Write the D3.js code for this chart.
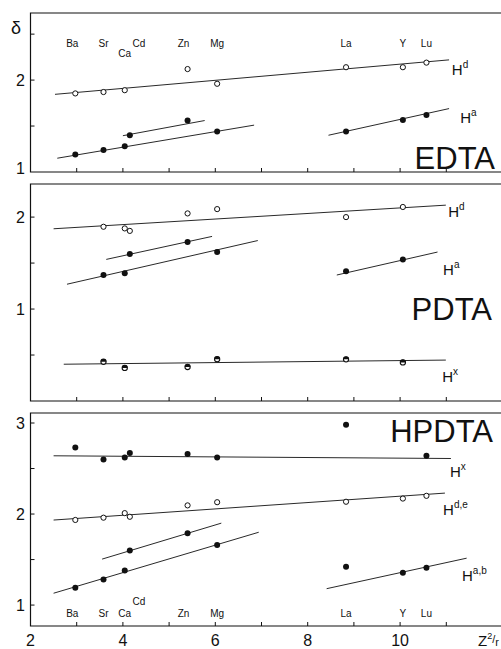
<!DOCTYPE html>
<html>
<head>
<meta charset="utf-8">
<script src="https://cdn.jsdelivr.net/npm/d3@7"></script>
<style>
  body { margin: 0; background: #fff; }
  text { font-family: "Liberation Sans", Arial, sans-serif; fill: #111; }
</style>
</head>
<body>
<svg id="chart" width="501" height="649"></svg>
<script>
// metal ions and their Z^2/r
const elements = ["Ba", "Sr", "Ca", "Cd", "Zn", "Mg", "La", "Y", "Lu"];
const zr = [2.97, 3.58, 4.04, 4.15, 5.40, 6.04, 8.83, 10.06, 10.57];

// delta values, one per element (null = not measured)
const edtaHd = [1.855, 1.87, 1.89, null, 2.12, 1.96, 2.14, 2.14, 2.19];
const edtaHa = [1.19, 1.24, 1.28, 1.40, 1.56, 1.44, 1.44, 1.565, 1.62];
const pdtaHd = [null, 1.895, 1.877, 1.85, 2.04, 2.087, 2.00, 2.11, null];
const pdtaHa = [null, 1.37, 1.39, 1.60, 1.73, 1.62, 1.41, 1.54, null];
const pdtaHx = [null, 0.427, 0.36, null, 0.37, 0.455, 0.453, 0.42, null];
const hpdtaHx = [2.73, 2.60, 2.62, 2.67, 2.66, 2.62, 2.98, null, 2.64];
const hpdtaHde = [1.935, 1.96, 2.01, 1.97, 2.095, 2.13, 2.135, 2.17, 2.20];
const hpdtaHab = [1.19, 1.28, 1.38, 1.60, 1.79, 1.66, 1.42, 1.355, 1.41];

// fitted straight lines [x0, d0, x1, d1]
const edtaHdFit = [[2.53, 1.845, 11.06, 2.22]];
const edtaHaFit = [[2.58, 1.15, 6.84, 1.51], [4.0, 1.395, 5.77, 1.56], [8.45, 1.40, 11.06, 1.69]];
const pdtaHdFit = [[2.50, 1.873, 10.99, 2.13]];
const pdtaHaFit = [[2.79, 1.27, 6.92, 1.745], [3.64, 1.54, 5.93, 1.79], [8.63, 1.37, 10.81, 1.62]];
const pdtaHxFit = [[2.72, 0.40, 10.99, 0.445]];
const hpdtaHxFit = [[2.5, 2.64, 11.1, 2.61]];
const hpdtaHdeFit = [[2.5, 1.934, 10.97, 2.23]];
const hpdtaHabFit = [[2.5, 1.13, 6.94, 1.80], [3.55, 1.505, 6.13, 1.90], [8.41, 1.18, 11.44, 1.515]];

const xTicks = [3, 4, 5, 6, 7, 8, 9, 10, 11];
const xTickLabels = [2, 4, 6, 8, 10];

var svg = d3.select("#chart");
var x = d3.scaleLinear().domain([2, 12]).range([30.5, 492.5]);
var ink = "#111";

var panels = [
  { name: "EDTA", top: 13, bottom: 172, dom: [1, 2.73], ticks: [1.5, 2, 2.5], labels: [1, 2],
    title: { x: 495, y: 169 },
    series: [
      { v: edtaHd, sym: "open", fit: edtaHdFit, sup: "d", lx: 11.12, ly: 2.05 },
      { v: edtaHa, sym: "filled", fit: edtaHaFit, sup: "a", lx: 11.30, ly: 1.53 }
    ] },
  { name: "PDTA", top: 184, bottom: 401, dom: [0, 2.36], ticks: [0.5, 1, 1.5, 2], labels: [1, 2],
    title: { x: 492, y: 320 },
    series: [
      { v: pdtaHd, sym: "open", fit: pdtaHdFit, sup: "d", lx: 11.04, ly: 2.0 },
      { v: pdtaHa, sym: "filled", fit: pdtaHaFit, sup: "a", lx: 10.93, ly: 1.37 },
      { v: pdtaHx, sym: "half", fit: pdtaHxFit, sup: "x", lx: 10.91, ly: 0.21 }
    ] },
  { name: "HPDTA", top: 413, bottom: 626, dom: [0.77, 3.11], ticks: [1, 1.5, 2, 2.5, 3], labels: [1, 2, 3],
    title: { x: 493, y: 442 },
    series: [
      { v: hpdtaHx, sym: "filled", fit: hpdtaHxFit, sup: "x", lx: 11.08, ly: 2.41 },
      { v: hpdtaHde, sym: "open", fit: hpdtaHdeFit, sup: "d,e", lx: 10.93, ly: 1.99 },
      { v: hpdtaHab, sym: "filled", fit: hpdtaHabFit, sup: "a,b", lx: 11.34, ly: 1.26 }
    ] }
];

panels.forEach(function (p) {
  var y = d3.scaleLinear().domain(p.dom).range([p.bottom, p.top]);
  var g = svg.append("g");

  // frame (right side runs off the page)
  g.append("path")
    .attr("d", "M504," + p.top + "H" + x(2) + "V" + p.bottom + "H504")
    .attr("fill", "none").attr("stroke", ink).attr("stroke-width", 1.2);

  // y ticks inward
  g.selectAll(".yt").data(p.ticks).enter().append("line")
    .attr("x1", x(2)).attr("x2", x(2) + 4)
    .attr("y1", d => y(d)).attr("y2", d => y(d))
    .attr("stroke", ink);
  g.selectAll(".yl").data(p.labels).enter().append("text")
    .attr("x", 25).attr("y", d => y(d) + (d == p.dom[0] ? 2 : 6))
    .attr("text-anchor", "end").attr("font-size", 16)
    .text(d => d);

  // x ticks upward at the bottom
  g.selectAll(".xt").data(xTicks).enter().append("line")
    .attr("x1", d => x(d)).attr("x2", d => x(d))
    .attr("y1", p.bottom).attr("y2", p.bottom - 4)
    .attr("stroke", ink);

  var line = d3.line().x(d => x(d[0])).y(d => y(d[1]));
  p.series.forEach(function (s) {
    // fitted lines
    s.fit.forEach(function (f) {
      g.append("path")
        .attr("d", line([[f[0], f[1]], [f[2], f[3]]]))
        .attr("fill", "none").attr("stroke", ink).attr("stroke-width", 0.9);
    });

    var pts = s.v.map((d, i) => ({ x: zr[i], d: d })).filter(d => d.d != null);
    var m = g.selectAll(null).data(pts).enter().append("g")
      .attr("transform", d => "translate(" + x(d.x) + "," + y(d.d) + ")");
    if (s.sym == "open") {
      m.append("circle").attr("r", 2.6).attr("fill", "#fff").attr("stroke", ink).attr("stroke-width", 1);
    } else if (s.sym == "filled") {
      m.append("circle").attr("r", 3).attr("fill", ink);
    } else {
      m.append("circle").attr("r", 2.6).attr("fill", "#fff").attr("stroke", ink).attr("stroke-width", 1.1);
      m.append("path")
        .attr("d", d3.arc()({ innerRadius: 0, outerRadius: 2.8, startAngle: -Math.PI / 2, endAngle: Math.PI / 2 }))
        .attr("fill", ink);
    }

    // H label with superscript
    var t = g.append("text").attr("x", x(s.lx)).attr("y", y(s.ly)).attr("font-size", 15);
    t.append("tspan").text("H");
    t.append("tspan").attr("dy", -7).attr("font-size", 10).text(s.sup);
  });

  // complex name
  g.append("text").attr("x", p.title.x).attr("y", p.title.y)
    .attr("text-anchor", "end").attr("font-size", 31).text(p.name);
});

// element names: top panel has Ca dropped, bottom panel has Cd raised
function elementLabels(base, shifted, dy) {
  svg.selectAll(null).data(elements).enter().append("text")
    .attr("x", (d, i) => x(zr[i]) + (d == "Cd" ? 9 : d == "Ba" ? -3 : d == "Zn" ? -4 : 0))
    .attr("y", d => base + (d == shifted ? dy : 0))
    .attr("text-anchor", "middle").attr("font-size", 10)
    .text(d => d);
}
elementLabels(47, "Ca", 10);
elementLabels(617, "Cd", -12);

// x axis labels
svg.selectAll(".xl").data(xTickLabels).enter().append("text")
  .attr("x", d => x(d)).attr("y", 646)
  .attr("text-anchor", "middle").attr("font-size", 16)
  .text(d => d);
var zt = svg.append("text").attr("x", 478).attr("y", 646).attr("font-size", 15);
zt.append("tspan").text("Z");
zt.append("tspan").attr("dy", -7).attr("font-size", 9).text("2");
zt.append("tspan").attr("dy", 4).attr("font-size", 11).text("/");
zt.append("tspan").attr("dy", 3).attr("font-size", 11).text("r");

// delta symbol
svg.append("text").attr("x", 16).attr("y", 34).attr("text-anchor", "middle")
  .attr("font-size", 18).text("δ");
</script>
</body>
</html>
